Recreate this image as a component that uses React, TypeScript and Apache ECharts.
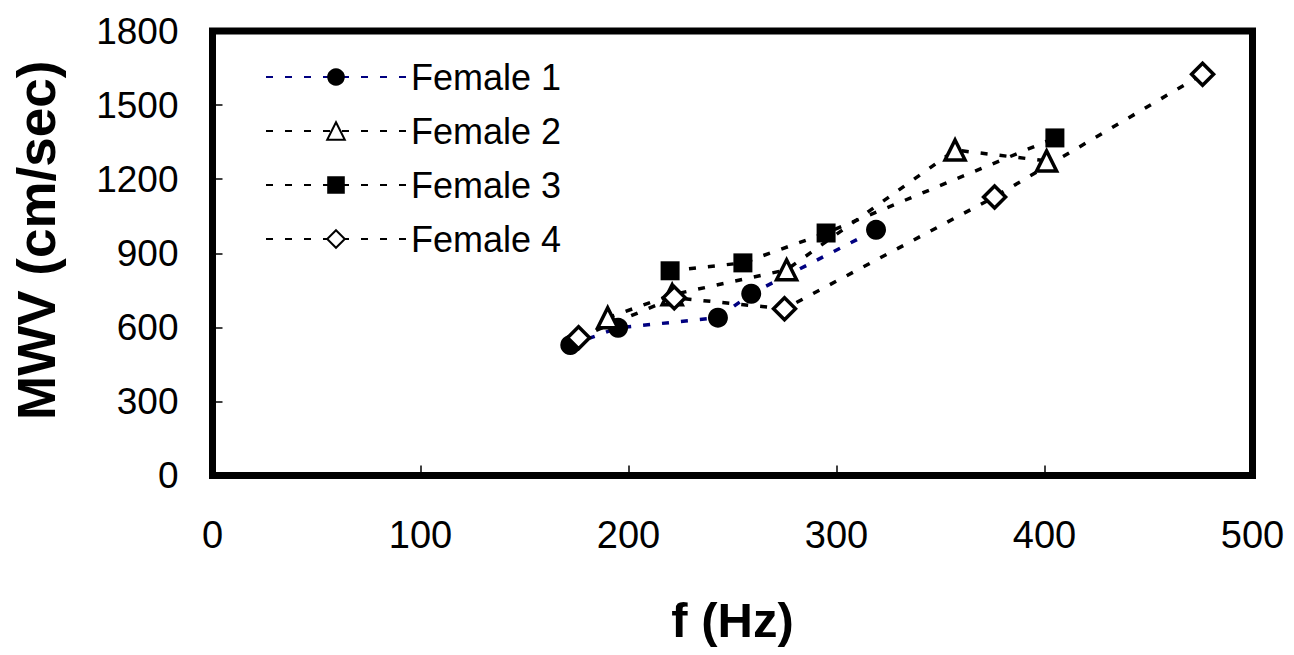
import React, { useEffect, useRef } from "react";
import * as echarts from "echarts";

const seriesNames = ["Female 1", "Female 2", "Female 3", "Female 4"];
const female1F = [172, 195, 243, 259, 319];
const female1MWV = [528, 598, 639, 736, 995];
const female2F = [190, 221, 276, 357, 401];
const female2MWV = [639, 732, 833, 1318, 1274];
const female3F = [220, 255, 295, 405];
const female3MWV = [829, 861, 982, 1367];
const female4F = [176, 222, 275, 376, 476];
const female4MWV = [558, 720, 675, 1128, 1625];
const xTicks = [0, 100, 200, 300, 400, 500];
const yTicks = [0, 300, 600, 900, 1200, 1500, 1800];

const pair = (xs: number[], ys: number[]) => xs.map((x, i) => [x, ys[i]]);

export default function App() {
  const ref = useRef<HTMLDivElement>(null);
  useEffect(() => {
    if (!ref.current) return;
    const chart = echarts.init(ref.current, null, { renderer: "svg" });
    const font = "'Liberation Sans', Arial, sans-serif";
    const dash = [7, 12];
    const mk = (
      name: string,
      data: number[][],
      symbol: string,
      size: number,
      filled: boolean,
      lineColor: string
    ) => ({
      name,
      type: "line",
      data,
      symbol,
      symbolSize: size,
      showSymbol: true,
      lineStyle: { color: lineColor, width: 3.5, type: dash },
      itemStyle: filled
        ? { color: "#000", borderColor: "#000", borderWidth: 0 }
        : { color: "#fff", borderColor: "#000", borderWidth: 3.5 },
      z: 3,
    });
    chart.setOption({
      animation: false,
      backgroundColor: "#fff",
      textStyle: { fontFamily: font },
      grid: {
        left: 212.5,
        right: 41.5,
        top: 31,
        bottom: 179.5,
        outerBoundsMode: "none",
        containLabel: false,
        show: true,
        borderColor: "#000",
        borderWidth: 7,
        backgroundColor: "transparent",
      },
      legend: {
        orient: "vertical",
        left: 260,
        top: 54,
        padding: 5,
        itemWidth: 140,
        itemHeight: 22,
        itemGap: 18,
        data: seriesNames,
        textStyle: {
          fontFamily: font,
          fontSize: 36,
          color: "#000",
        },
      },
      xAxis: {
        type: "value",
        min: xTicks[0],
        max: xTicks[xTicks.length - 1],
        interval: 100,
        name: "f (Hz)",
        nameLocation: "middle",
        nameGap: 120,
        nameTextStyle: { fontFamily: font, fontSize: 49, fontWeight: "bold", color: "#000" },
        axisLine: { show: false },
        axisTick: { show: true, inside: true, length: 10, lineStyle: { color: "#000", width: 1.5 } },
        axisLabel: { fontFamily: font, fontSize: 38, color: "#000", margin: 40 },
        splitLine: { show: false },
      },
      yAxis: {
        type: "value",
        min: yTicks[0],
        max: yTicks[yTicks.length - 1],
        interval: 300,
        name: "MWV (cm/sec)",
        nameLocation: "middle",
        nameGap: 150,
        nameTextStyle: {
          fontFamily: font,
          fontSize: 53,
          fontWeight: "bold",
          color: "#000",
          padding: [0, 0, 0, 26],
        },
        axisLine: { show: false },
        axisTick: { show: true, inside: true, length: 10, lineStyle: { color: "#000", width: 1.5 } },
        axisLabel: {
          fontFamily: font,
          fontSize: 37,
          color: "#000",
          margin: 34,
          formatter: (v: number) => String(v),
        },
        splitLine: { show: false },
      },
      series: [
        mk(seriesNames[0], pair(female1F, female1MWV), "circle", 20, true, "#000080"),
        mk(seriesNames[1], pair(female2F, female2MWV), "triangle", 20, false, "#000"),
        mk(seriesNames[2], pair(female3F, female3MWV), "rect", 19, true, "#000"),
        mk(seriesNames[3], pair(female4F, female4MWV), "diamond", 22, false, "#000"),
      ],
    });
    return () => chart.dispose();
  }, []);
  return (
    <div
      ref={ref}
      style={{ position: "fixed", left: 0, top: 0, width: 1294, height: 655, background: "#fff" }}
    />
  );
}
